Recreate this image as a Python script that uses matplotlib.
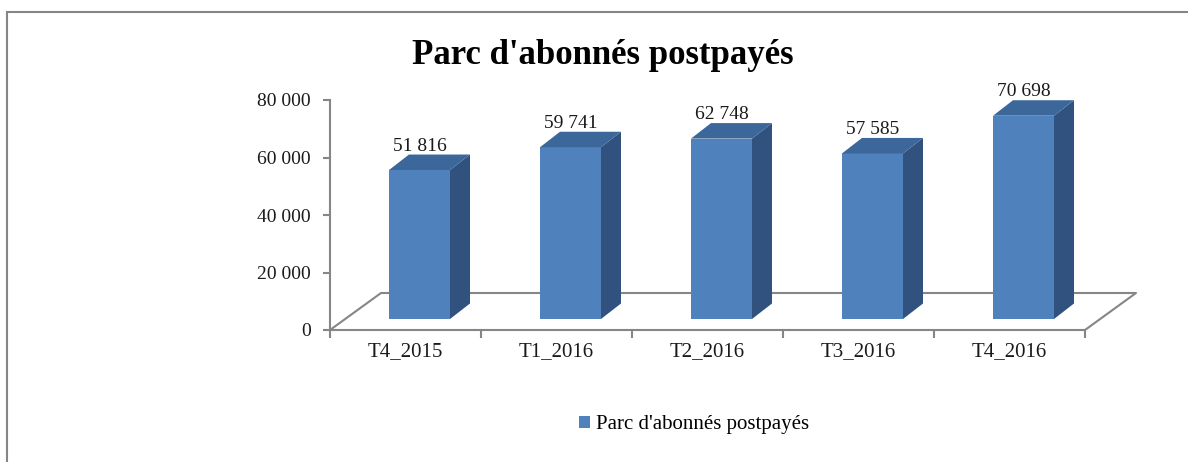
import matplotlib
matplotlib.use("Agg")
import matplotlib.pyplot as plt
from matplotlib.patches import Polygon, Rectangle, Patch

categories = ["T4_2015", "T1_2016", "T2_2016", "T3_2016", "T4_2016"]
values = [51816, 59741, 62748, 57585, 70698]
y_ticks = [0, 20000, 40000, 60000, 80000]
title = "Parc d'abonnés postpayés"
series_name = "Parc d'abonnés postpayés"

plt.rcParams['font.family'] = ['Liberation Serif', 'DejaVu Serif']

W, H = 1188, 462
fig = plt.figure(figsize=(W / 100, H / 100), dpi=100)

# axes box in pixels: x 330..1085, y 100..330
ax_l, ax_r, ax_t, ax_b = 330, 1085, 100, 330
ax = fig.add_axes([ax_l / W, 1 - ax_b / H, (ax_r - ax_l) / W, (ax_b - ax_t) / H])
ax.set_xlim(0, 5)
ax.set_ylim(0, 80000)
ax.patch.set_alpha(0)

px_x = 5 / (ax_r - ax_l)       # category units per pixel
px_y = 80000 / (ax_b - ax_t)   # value units per pixel

front = "#4F81BD"
side = "#31527E"
top = "#3C679A"
grey = "#868686"
txt = "#1a1a1a"

# floor (3D depth)
fdx, fdy = 51 * px_x, 37 * px_y
ax.plot([0, fdx, 5 + fdx, 5], [0, fdy, fdy, 0], color=grey, lw=1.5, clip_on=False)

# bars
bar_bottom = 11 * px_y
off = 59 * px_x
bw = 61 * px_x
ddx, ddy = 20 * px_x, 15.5 * px_y
x0s = [i + off for i in range(len(values))]
ax.bar(x0s, values, width=bw, bottom=bar_bottom, align='edge', color=front, zorder=3)
for x0, v in zip(x0s, values):
    x1 = x0 + bw
    yt = bar_bottom + v
    ax.add_patch(Polygon([(x1, bar_bottom), (x1 + ddx, bar_bottom + ddy),
                          (x1 + ddx, yt + ddy), (x1, yt)],
                         closed=True, facecolor=side, edgecolor='none', zorder=3, clip_on=False))
    ax.add_patch(Polygon([(x0, yt), (x0 + ddx, yt + ddy), (x1 + ddx, yt + ddy), (x1, yt)],
                         closed=True, facecolor=top, edgecolor='none', zorder=3, clip_on=False))
    ax.annotate(f"{v:,}".replace(",", " "), (x0 + bw / 2, yt + ddy), xytext=(0, 0),
                textcoords='offset points', ha='center', va='bottom', fontsize=14,
                color=txt, annotation_clip=False)

# axes styling
for s in ['top', 'right']:
    ax.spines[s].set_visible(False)
for s in ['left', 'bottom']:
    ax.spines[s].set_color(grey)
    ax.spines[s].set_linewidth(1.5)

ax.set_yticks(y_ticks)
ax.set_yticklabels([f"{t:,}".replace(",", " ") for t in y_ticks])
ax.tick_params(axis='y', length=5, width=1.5, color=grey, pad=9, labelsize=14, labelcolor=txt)

ax.set_xticks(range(6))
ax.set_xticklabels([])
ax.tick_params(axis='x', which='major', length=6, width=1.5, color=grey)
ax.set_xticks([i + 0.5 for i in range(len(categories))], minor=True)
ax.set_xticklabels(categories, minor=True)
ax.tick_params(axis='x', which='minor', length=0, pad=9, labelsize=15, labelcolor=txt)

# title
fig.text(603 / W, 1 - 55 / H, title, ha='center', va='center', fontsize=25,
         fontweight='bold', color='black')

# legend
fig.legend(handles=[Patch(facecolor=front, label=series_name)], loc='center',
           bbox_to_anchor=(694 / W, 1 - 425 / H), frameon=False, fontsize=15,
           handlelength=0.55, handleheight=0.55, handletextpad=0.3)

# chart border (only top and left visible)
fig.add_artist(Rectangle((7 / W, -0.2), 1.2, (H - 12) / H + 0.2, transform=fig.transFigure,
                         fill=False, edgecolor=grey, lw=1.5))

fig.savefig("out.png", dpi=100)
